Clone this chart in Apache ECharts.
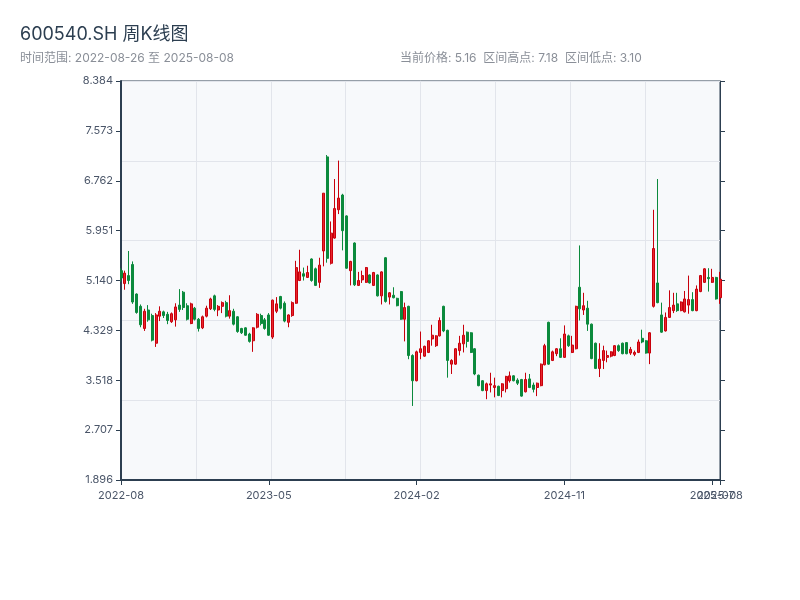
<!DOCTYPE html>
<html>
<head>
<meta charset="utf-8">
<script src="https://cdn.jsdelivr.net/npm/echarts@6/dist/echarts.min.js"></script>
<style>
html,body{margin:0;padding:0;background:#fff;}
#chart{width:800px;height:600px;}
</style>
</head>
<body>
<div id="chart"></div>
<script>
// Weekly candles: 2022-08-26 .. 2025-08-08 (155 weeks)
const startDate = '2022-08-26';
const weekCount = 155;
const openPrices = [5.30,5.09,5.22,5.40,4.92,4.72,4.36,4.66,4.57,4.12,4.56,4.63,4.59,4.47,4.50,4.74,4.95,4.73,4.44,4.69,
4.51,4.37,4.56,4.68,4.89,4.66,4.72,4.78,4.56,4.64,4.55,4.36,4.37,4.27,4.16,4.38,4.57,4.50,4.58,4.22,
4.64,4.88,4.77,4.46,4.57,4.77,5.14,5.25,5.19,5.49,5.33,5.11,5.62,7.15,5.42,5.83,6.29,6.53,6.19,5.30,
5.75,5.06,5.15,5.11,5.23,5.06,5.23,4.89,5.51,4.87,4.90,4.85,4.96,4.51,4.72,3.92,3.51,3.97,3.91,3.97,
4.19,4.08,4.24,4.72,4.33,3.78,3.78,4.00,4.11,4.30,4.29,4.03,3.60,3.51,3.35,3.44,3.40,3.42,3.35,3.38,
3.51,3.59,3.52,3.53,3.33,3.54,3.44,3.40,3.43,3.77,4.46,3.84,3.95,4.03,3.89,4.24,3.97,4.03,5.03,4.66,
4.69,4.43,4.12,3.71,3.84,3.89,3.91,3.92,4.08,4.12,4.13,3.96,3.94,3.97,4.20,4.16,3.96,4.72,5.10,4.58,
4.32,4.54,4.65,4.76,4.65,4.63,4.74,4.83,4.65,4.96,5.11,5.19,5.11,5.19,4.86];
const closePrices = [5.18,5.26,5.14,4.79,4.62,4.42,4.64,4.50,4.17,4.58,4.64,4.57,4.49,4.60,4.71,4.67,4.70,4.51,4.76,4.51,
4.36,4.55,4.69,4.84,4.67,4.72,4.78,4.56,4.65,4.43,4.31,4.29,4.25,4.15,4.37,4.59,4.44,4.36,4.25,4.82,
4.76,4.69,4.48,4.58,4.78,5.35,5.28,5.21,5.27,5.14,5.06,5.39,6.56,5.50,5.91,6.31,6.48,5.95,5.34,5.45,
5.07,5.14,5.22,5.35,5.10,5.27,4.89,5.28,4.80,4.94,4.86,4.73,4.51,4.70,3.92,3.51,3.98,4.03,4.07,4.16,
4.25,4.24,4.49,4.32,3.84,3.84,4.03,4.12,4.25,4.15,3.97,3.62,3.43,3.35,3.46,3.46,3.43,3.27,3.46,3.58,
3.59,3.51,3.47,3.26,3.53,3.40,3.37,3.47,3.78,4.08,3.78,3.98,4.03,3.89,4.27,4.08,4.09,4.72,4.68,4.73,
4.43,3.87,3.71,3.86,4.00,3.92,3.98,4.08,4.00,3.95,3.95,4.02,3.97,4.14,4.14,3.96,4.29,5.66,4.78,4.30,
4.54,4.70,4.74,4.65,4.79,4.84,4.83,4.65,5.00,5.22,5.33,5.17,5.19,4.84,5.16];
const lowPrices = [5.12,4.99,5.08,4.76,4.60,4.38,4.32,4.47,4.15,4.06,4.48,4.53,4.43,4.45,4.39,4.63,4.66,4.49,4.43,4.49,
4.31,4.35,4.54,4.66,4.64,4.56,4.61,4.54,4.52,4.41,4.29,4.27,4.24,4.13,3.98,4.36,4.41,4.34,4.24,4.19,
4.61,4.67,4.46,4.38,4.55,4.76,5.13,5.14,5.18,5.12,5.05,5.02,5.37,5.43,5.40,5.82,6.22,5.63,5.33,5.06,
5.05,5.05,5.10,5.10,5.09,5.05,4.88,4.75,4.78,4.75,4.85,4.72,4.50,4.15,3.86,3.10,3.50,3.86,3.90,3.96,
4.08,4.06,4.23,4.30,3.56,3.62,3.77,3.92,3.97,4.05,3.96,3.60,3.42,3.34,3.21,3.32,3.24,3.26,3.24,3.32,
3.48,3.50,3.44,3.25,3.32,3.39,3.32,3.26,3.42,3.76,3.77,3.83,3.91,3.88,3.88,4.06,3.96,4.02,4.49,4.58,
4.32,3.86,3.70,3.57,3.70,3.81,3.89,3.91,3.98,3.94,3.94,3.93,3.91,3.96,4.12,3.95,3.78,4.70,4.77,4.29,
4.31,4.53,4.61,4.63,4.64,4.62,4.60,4.64,4.64,4.95,5.10,4.96,5.10,4.83,4.76];
const highPrices = [5.34,5.30,5.62,5.45,4.93,4.75,4.68,4.74,4.60,4.61,4.72,4.65,4.63,4.62,4.77,5.00,4.97,4.77,4.78,4.71,
4.53,4.57,4.73,4.86,4.91,4.74,4.80,4.81,4.90,4.68,4.56,4.37,4.38,4.29,4.38,4.61,4.60,4.53,4.61,4.83,
4.87,4.89,4.80,4.59,4.80,5.46,5.64,5.35,5.38,5.50,5.35,5.51,6.56,7.18,6.10,6.79,7.09,6.55,6.20,5.46,
5.76,5.28,5.30,5.36,5.24,5.28,5.24,5.29,5.52,4.95,5.03,4.86,4.97,4.78,4.73,3.94,4.00,4.31,4.08,4.17,
4.42,4.25,4.54,4.73,4.34,3.86,4.04,4.24,4.42,4.31,4.30,4.04,3.61,3.52,3.48,3.64,3.56,3.43,3.47,3.59,
3.66,3.60,3.55,3.54,3.64,3.62,3.48,3.48,3.79,4.11,4.47,4.00,4.04,4.20,4.41,4.26,4.24,4.73,5.71,4.94,
4.81,4.44,4.13,4.12,4.08,4.00,3.99,4.09,4.10,4.13,4.14,4.06,4.00,4.18,4.34,4.17,4.30,6.29,6.79,4.78,
4.62,4.98,4.94,4.94,4.80,4.97,5.22,4.95,5.06,5.23,5.34,5.34,5.33,5.20,5.28];
const yTickMin = 1.896, yTickMax = 8.384, yTickStep = 0.811;
const titleText = '600540.SH 周K线图';
const rangeText = '时间范围: 2022-08-26 至 2025-08-08';
const statText = '当前价格: 5.16  区间高点: 7.18  区间低点: 3.10';

function buildDates(start, n) {
  const out = [];
  const d0 = new Date(start + 'T00:00:00Z');
  for (let i = 0; i < n; i++) {
    const d = new Date(d0.getTime() + i * 7 * 86400000);
    out.push(d.toISOString().slice(0, 10));
  }
  return out;
}
const categories = buildDates(startDate, weekCount);
const candleData = openPrices.map((o, i) => [o, closePrices[i], lowPrices[i], highPrices[i]]);
const lastIdx = categories.length - 1;
const showIdx = (idx) => idx % 38 === 0 || idx === lastIdx;

const FONT = 'Inter, "Noto Sans CJK SC", sans-serif';
const AXIS = '#2c3e50';
const LABEL = { color: '#4a5568', fontSize: 11, margin: 10, formatter: (v) => v.slice(0, 7) };
const chart = echarts.init(document.getElementById('chart'));
chart.setOption({
  animation: false,
  backgroundColor: '#ffffff',
  textStyle: { fontFamily: FONT },
  title: [
    { text: titleText, left: 20, top: 26, padding: 0, textStyle: { fontSize: 18, fontWeight: 'normal', color: '#2c3e50', fontFamily: FONT } },
    { text: rangeText, left: 20, top: 52, padding: 0, textStyle: { fontSize: 12, fontWeight: 'normal', color: '#8a8f98', fontFamily: FONT } },
    { text: statText, left: 400, top: 52, padding: 0, textStyle: { fontSize: 12, fontWeight: 'normal', color: '#8a8f98', fontFamily: FONT } }
  ],
  grid: { left: 121, right: 80, top: 81, bottom: 120, show: true, backgroundColor: '#f7f9fb', borderColor: AXIS, borderWidth: 1 },
  xAxis: [
    {
      type: 'category', data: categories, boundaryGap: false, position: 'bottom',
      axisLine: { show: true, lineStyle: { color: AXIS, width: 2 } },
      axisTick: { show: true, interval: (i) => showIdx(i), length: 5, lineStyle: { color: AXIS } },
      axisLabel: Object.assign({ interval: (i) => i % 38 === 0, showMaxLabel: true, showMinLabel: true }, LABEL),
      splitLine: { show: false }
    },
    {
      type: 'value', min: 0, max: 8, interval: 1, position: 'top',
      axisLine: { show: false }, axisTick: { show: false }, axisLabel: { show: false },
      splitLine: { show: true, lineStyle: { color: '#e2e5eb', width: 1 } }
    },
    {
      type: 'category', data: categories, boundaryGap: false, position: 'bottom', offset: 0,
      axisLine: { show: false }, axisTick: { show: false }, splitLine: { show: false },
      axisLabel: Object.assign({ interval: (i) => i === lastIdx, showMaxLabel: true, showMinLabel: false }, LABEL)
    }
  ],
  yAxis: [
    {
      type: 'value', min: yTickMin, max: yTickMax, interval: yTickStep, position: 'left',
      axisLine: { show: true, lineStyle: { color: AXIS, width: 2 } },
      axisTick: { show: true, length: 5, lineStyle: { color: AXIS } },
      axisLabel: { color: '#4a5568', fontSize: 11, margin: 8, formatter: (v) => v.toFixed(3) },
      splitLine: { show: false }
    },
    {
      type: 'value', min: yTickMin, max: yTickMax, interval: yTickStep, position: 'right',
      axisLine: { show: true, lineStyle: { color: AXIS, width: 1 } },
      axisTick: { show: true, length: 5, lineStyle: { color: AXIS } },
      axisLabel: { show: false },
      splitLine: { show: false }
    },
    {
      type: 'value', min: 0, max: 5, interval: 1, position: 'left',
      axisLine: { show: false }, axisTick: { show: false }, axisLabel: { show: false },
      splitLine: { show: true, lineStyle: { color: '#e2e5eb', width: 1 } }
    }
  ],
  series: [{
    type: 'candlestick',
    xAxisIndex: 0, yAxisIndex: 0,
    data: candleData,
    barWidth: 2.5,
    itemStyle: { color: '#e8262d', color0: '#0b8a3c', borderColor: '#c8000b', borderColor0: '#0b8a3c', borderWidth: 1 }
  }]
});
</script>
</body>
</html>
